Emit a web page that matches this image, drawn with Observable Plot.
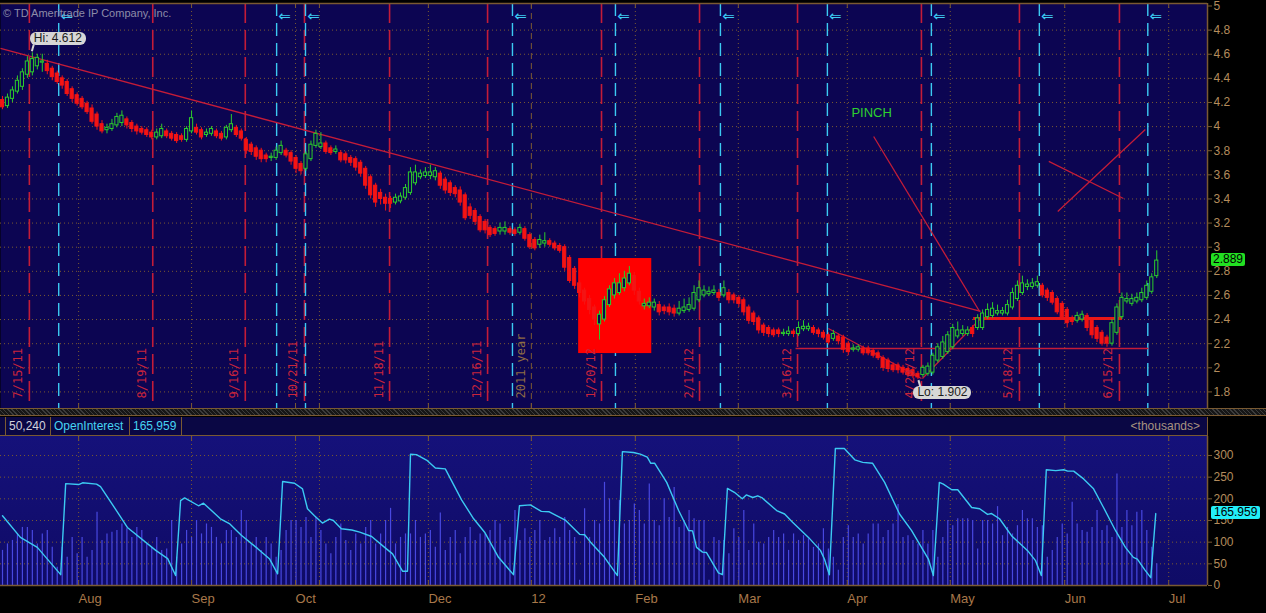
<!DOCTYPE html>
<html>
<head>
<meta charset="utf-8">
<script src="https://cdn.jsdelivr.net/npm/d3@7"></script>
<script src="https://cdn.jsdelivr.net/npm/@observablehq/plot@0.6"></script>
<style>
  html, body { margin: 0; padding: 0; background: #000; }
  #chart { position: relative; width: 1266px; height: 613px; background: #000; overflow: hidden;
           font-family: "Liberation Sans", Arial, sans-serif; }
  #chart > * { position: absolute; }
  .bubble { background: #d6d6d6; color: #1b1b1b; font-size: 12px; line-height: 13px; height: 13px;
            padding: 0 4px; border-radius: 6px; white-space: nowrap; }
  .tag { font-size: 12px; line-height: 13px; height: 13px; padding: 0 2px; border-radius: 2px; white-space: nowrap; color: #000; }
  .hbox { top: 0; height: 18px; line-height: 18px; font-size: 12px; border-right: 1px solid #7a5a32; padding: 0 3px; box-sizing: border-box; white-space: nowrap; position: absolute; }
</style>
</head>
<body>
<div id="chart"></div>
<script>
// ---------------- DATA ----------------
// one entry per daily session (bar index = position in the arrays)
const opens = [
4.22,4.17,4.23,4.29,4.33,4.43,4.45,4.50,4.53,4.52,
4.48,4.44,4.40,4.37,4.31,4.26,4.23,4.19,4.15,4.10,
4.02,3.97,3.98,4.01,4.03,4.06,4.03,4.00,3.98,3.97,
3.95,3.91,3.92,3.96,3.94,3.93,3.92,3.89,3.96,3.99,
3.97,3.93,3.94,3.96,3.94,3.91,3.97,3.99,3.96,3.89,
3.85,3.82,3.80,3.76,3.74,3.74,3.78,3.80,3.78,3.74,
3.69,3.65,3.73,3.84,3.83,3.86,3.82,3.79,3.78,3.77,
3.74,3.73,3.70,3.65,3.58,3.51,3.45,3.41,3.40,3.37,
3.38,3.41,3.45,3.53,3.58,3.59,3.59,3.58,3.61,3.56,
3.53,3.49,3.47,3.43,3.33,3.30,3.25,3.21,3.16,3.15,
3.13,3.13,3.15,3.14,3.12,3.15,3.10,3.06,3.02,3.03,
3.05,3.03,3.01,3.00,2.91,2.82,2.70,2.64,2.57,2.50,
2.36,2.40,2.52,2.60,2.62,2.66,2.70,2.76,2.63,2.51,
2.51,2.50,2.52,2.50,2.50,2.49,2.45,2.47,2.48,2.49,
2.56,2.60,2.61,2.62,2.62,2.60,2.62,2.60,2.58,2.56,
2.50,2.45,2.41,2.35,2.33,2.31,2.31,2.28,2.28,2.30,
2.28,2.32,2.32,2.33,2.31,2.29,2.27,2.24,2.26,2.25,
2.20,2.15,2.15,2.16,2.16,2.14,2.12,2.08,2.06,2.02,
2.02,2.00,1.99,1.98,1.95,1.94,1.95,1.96,2.06,2.09,
2.13,2.17,2.26,2.28,2.28,2.33,2.33,2.33,2.42,2.43,
2.45,2.45,2.45,2.50,2.57,2.62,2.67,2.67,2.68,2.68,
2.64,2.62,2.57,2.53,2.48,2.41,2.39,2.40,2.43,2.39,
2.33,2.29,2.25,2.20,2.29,2.42,2.55,2.53,2.55,2.56,
2.58,2.63,2.76];
const highs = [
4.25,4.27,4.33,4.42,4.48,4.58,4.612,4.60,4.60,4.55,
4.50,4.46,4.42,4.39,4.33,4.28,4.25,4.21,4.18,4.12,
4.05,4.02,4.06,4.11,4.13,4.08,4.05,4.02,4.00,3.99,
3.97,3.98,4.02,3.98,3.96,3.95,3.94,4.00,4.13,4.02,
3.99,3.98,4.00,3.98,3.96,4.01,4.10,4.01,3.98,3.91,
3.87,3.84,3.82,3.78,3.78,3.83,3.88,3.82,3.80,3.76,
3.71,3.79,3.88,3.97,3.95,3.88,3.84,3.84,3.80,3.79,
3.76,3.75,3.72,3.67,3.60,3.53,3.48,3.44,3.42,3.44,
3.45,3.52,3.66,3.68,3.64,3.66,3.68,3.66,3.63,3.58,
3.55,3.51,3.50,3.45,3.36,3.32,3.27,3.23,3.18,3.17,
3.20,3.21,3.17,3.16,3.19,3.17,3.12,3.08,3.10,3.12,
3.07,3.05,3.03,3.02,2.93,2.84,2.72,2.66,2.60,2.52,
2.47,2.59,2.68,2.74,2.78,2.80,2.84,2.79,2.66,2.57,
2.58,2.57,2.55,2.52,2.53,2.52,2.55,2.57,2.58,2.68,
2.72,2.68,2.67,2.68,2.65,2.72,2.65,2.62,2.60,2.58,
2.52,2.47,2.43,2.37,2.35,2.33,2.33,2.32,2.34,2.32,
2.38,2.39,2.37,2.35,2.33,2.31,2.29,2.31,2.28,2.27,
2.22,2.19,2.19,2.18,2.18,2.16,2.14,2.10,2.08,2.04,
2.04,2.02,2.01,2.00,1.97,2.02,2.04,2.12,2.20,2.26,
2.30,2.36,2.38,2.35,2.34,2.35,2.44,2.48,2.53,2.54,
2.52,2.50,2.56,2.66,2.72,2.76,2.73,2.74,2.76,2.70,
2.66,2.64,2.59,2.55,2.50,2.43,2.46,2.47,2.45,2.41,
2.35,2.31,2.27,2.40,2.53,2.62,2.62,2.61,2.62,2.66,
2.72,2.78,2.97];
const lows = [
4.14,4.15,4.20,4.27,4.30,4.40,4.42,4.47,4.45,4.43,
4.38,4.35,4.31,4.25,4.20,4.17,4.14,4.10,4.02,3.97,
3.94,3.94,3.96,3.99,4.00,3.98,3.95,3.93,3.93,3.91,
3.89,3.89,3.90,3.90,3.88,3.86,3.87,3.87,3.94,3.93,
3.89,3.91,3.92,3.90,3.88,3.89,3.95,3.91,3.88,3.77,
3.76,3.72,3.70,3.70,3.71,3.72,3.76,3.74,3.68,3.61,
3.60,3.63,3.71,3.82,3.81,3.77,3.76,3.77,3.70,3.69,
3.67,3.63,3.58,3.48,3.40,3.33,3.35,3.30,3.32,3.35,
3.36,3.39,3.43,3.51,3.56,3.57,3.56,3.55,3.48,3.44,
3.42,3.41,3.34,3.22,3.23,3.18,3.12,3.11,3.08,3.09,
3.10,3.10,3.10,3.09,3.10,3.05,2.98,2.97,2.99,3.00,
3.00,2.97,2.95,2.80,2.70,2.65,2.58,2.52,2.44,2.35,
2.23,2.38,2.50,2.57,2.60,2.63,2.68,2.60,2.52,2.48,
2.49,2.47,2.43,2.44,2.43,2.42,2.43,2.45,2.46,2.47,
2.54,2.58,2.59,2.60,2.55,2.58,2.53,2.53,2.50,2.43,
2.36,2.35,2.28,2.26,2.25,2.25,2.25,2.26,2.26,2.25,
2.26,2.30,2.30,2.27,2.25,2.23,2.19,2.22,2.19,2.12,
2.10,2.13,2.13,2.10,2.10,2.08,2.06,1.97,1.96,1.96,
1.95,1.94,1.92,1.91,1.902,1.92,1.93,1.94,2.04,2.07,
2.11,2.15,2.24,2.26,2.26,2.25,2.31,2.31,2.40,2.41,
2.43,2.43,2.43,2.48,2.55,2.60,2.64,2.65,2.66,2.58,
2.55,2.52,2.44,2.40,2.33,2.35,2.37,2.38,2.30,2.24,
2.21,2.18,2.17,2.18,2.27,2.40,2.53,2.51,2.53,2.54,
2.56,2.61,2.74];
const closes = [
4.16,4.24,4.30,4.38,4.45,4.54,4.56,4.57,4.54,4.46,
4.41,4.37,4.34,4.27,4.23,4.19,4.16,4.12,4.04,4.00,
3.96,3.99,4.02,4.08,4.09,4.01,3.98,3.96,3.95,3.93,
3.91,3.95,3.98,3.92,3.90,3.88,3.89,3.98,4.07,3.95,
3.91,3.95,3.98,3.92,3.90,3.99,4.02,3.93,3.90,3.80,
3.79,3.75,3.73,3.73,3.75,3.80,3.84,3.76,3.71,3.65,
3.63,3.77,3.85,3.94,3.86,3.79,3.78,3.81,3.72,3.72,
3.70,3.66,3.61,3.51,3.43,3.37,3.40,3.36,3.36,3.41,
3.42,3.49,3.62,3.62,3.61,3.62,3.62,3.63,3.51,3.47,
3.45,3.44,3.37,3.24,3.26,3.21,3.14,3.14,3.10,3.11,
3.16,3.16,3.12,3.11,3.16,3.07,3.00,2.99,3.06,3.05,
3.02,2.99,2.97,2.83,2.72,2.68,2.62,2.55,2.48,2.40,
2.44,2.56,2.65,2.70,2.70,2.74,2.78,2.64,2.55,2.53,
2.54,2.54,2.46,2.47,2.46,2.45,2.49,2.50,2.52,2.62,
2.66,2.64,2.63,2.64,2.58,2.66,2.56,2.56,2.53,2.46,
2.39,2.38,2.31,2.29,2.28,2.27,2.28,2.29,2.30,2.28,
2.33,2.34,2.34,2.29,2.28,2.25,2.21,2.28,2.22,2.15,
2.13,2.16,2.17,2.12,2.12,2.10,2.08,2.00,1.99,1.98,
1.98,1.96,1.94,1.93,1.92,2.00,2.01,2.10,2.17,2.21,
2.27,2.33,2.31,2.31,2.31,2.28,2.41,2.45,2.48,2.49,
2.47,2.47,2.52,2.62,2.68,2.70,2.69,2.70,2.71,2.60,
2.58,2.54,2.46,2.42,2.37,2.38,2.43,2.44,2.33,2.27,
2.24,2.20,2.20,2.37,2.50,2.58,2.57,2.57,2.58,2.62,
2.68,2.75,2.889];
// daily volume, thousands
const volume = [
81,96,104,119,134,134,127,96,119,127,
88,42,88,65,111,73,111,65,81,169,
104,119,123,127,142,131,111,134,127,96,
88,111,81,84,150,65,96,127,111,150,
119,142,134,111,96,127,127,111,173,150,
96,111,81,111,96,65,81,127,150,150,
134,157,111,157,127,96,73,111,142,104,
81,119,96,134,150,96,119,150,178,
96,111,119,119,150,111,119,127,88,167,
81,111,127,73,111,134,104,119,119,127,
150,142,104,111,173,104,131,111,127,150,
104,111,131,111,157,127,111,12,177,111,
150,142,238,200,150,196,142,150,188,173,
142,234,150,138,200,157,226,134,150,173,
154,150,150,12,111,104,104,73,131,111,
173,81,142,100,96,111,127,111,119,81,
119,104,115,108,88,96,131,84,65,35,
111,138,111,119,96,119,142,142,111,127,
142,187,111,115,104,96,127,96,127,65,
111,150,138,154,154,154,150,84,150,150,
142,182,115,134,119,138,173,154,154,134,
138,65,81,111,142,119,192,142,127,123,
134,173,127,138,111,257,134,173,138,169,
173,127,88,50.24];
// open interest (thousands), at bar positions
const oiBar = [0,3.6,7.0,11.7,12.7,15.3,16.1,18.9,19.7,23.3,
25.1,30.8,33.2,34.8,35.8,36.6,39.4,40.4,43.8,45.6,
48.0,51.3,53.7,55.3,56.3,58.7,60.3,61.3,62.7,64.3,
65.7,66.5,68.1,70.2,71.8,74.2,76.8,78.4,80.4,81.4,
82.0,83.2,85.4,87.0,89.0,92.3,94.7,96.9,99.7,102.7,
103.9,106.1,108.3,109.9,113.2,116.0,117.0,118.2,121.0,123.6,
124.6,126.8,128.2,129.6,130.3,131.1,133.5,135.9,137.9,138.7,
139.5,140.7,141.5,143.9,144.7,145.7,147.1,148.7,149.5,150.8,
151.8,152.6,155.6,157.2,158.8,162.0,164.4,165.2,166.2,167.4,
169.2,171.3,172.9,174.9,177.3,180.3,182.7,184.3,186.1,187.1,
188.3,189.1,190.8,192.0,194.8,196.4,198.0,198.8,200.4,202.8,
206.0,207.6,208.8,209.8,211.7,213.3,214.1,215.3,217.3,219.3,
221.3,223.7,225.7,227.3,228.1,229.6,230.8,231.8];
const oiValue = [161,111,88,25,235,233,237,234,228,166,
134,81,62,23,196,202,184,190,154,143,
116,85,61,27,240,236,223,177,161,144,
153,150,131,128,123,113,88,73,33,33,
303,302,288,271,269,197,154,123,65,25,
184,186,171,170,150,118,117,100,65,23,
309,307,303,296,282,282,238,173,127,126,
88,77,76,29,25,224,215,200,209,203,
207,203,173,165,146,111,81,61,25,316,
316,290,284,282,238,165,127,96,61,23,
238,234,221,221,180,177,164,166,154,115,
81,58,23,267,265,267,264,264,246,223,
180,127,88,65,61,36,18,165.959];

// options-expiration markers (red) and contract-roll markers (cyan)
const expiryBar = [5.4,30.2,48.8,60.7,77.8,97.5,120.4,140.1,159.8,184.7,204.4,224.5];
const expiryLabel = ["7/15/11","8/19/11","9/16/11","10/21/11","11/18/11","12/16/11","1/20/12","2/17/12","3/16/12","4/20/12","5/18/12","6/15/12"];
const rollBar = [11.3,55.1,60.9,102.5,123.2,144.3,165.8,186.7,208.4,230.2];

// month boundaries and labels
const monthBar = [15.3,38.0,58.9,63.7,85.6,106.3,127.2,147.9,169.8,190.5,213.5,234.4];
const monthLabel = ["Aug","Sep","Oct","","Dec","12","Feb","Mar","Apr","May","Jun","Jul"];
const yearBar = 106.3, yearLabel = "2011 year";

const priceTicks = [1.8,2,2.2,2.4,2.6,2.8,3,3.2,3.4,3.6,3.8,4,4.2,4.4,4.6,4.8,5];
const oiTicks = [0,50,100,150,200,250,300];

// drawn annotations (bar, price)
const trendFromBar   = [-0.4, 175.1, 210.3, 212.1, 184.9, 166.0, 159.4];
const trendFromPrice = [4.648, 3.918, 3.711, 3.296, 1.911, 2.326, 2.160];
const trendToBar     = [196.6, 196.4, 225.3, 229.7, 196.6, 184.7, 230.3];
const trendToPrice   = [2.467, 2.467, 3.404, 3.976, 2.409, 1.911, 2.160];
const levelBar = [195.2, 225.1], levelPrice = 2.409;
const boxBar = [115.8, 130.5], boxPrice = [2.118, 2.906];
const noteText = "PINCH", noteBar = 174.7, notePrice = 4.116;

// ---------------- CHART ----------------
const NAVY = "#0c0552", BROWN = "#7a5a32", TAN = "#b48c5c";
const RED = "#f41414", GREEN = "#2ccc2c", LRED = "#c41c38", CYAN = "#3ccaf2";
const xDomain = [-0.402, 242.2];
const priceDomain = [1.6625, 5.0207];
const oiDomain = [0, 343.8];
const FONT = "'Liberation Sans', Arial, sans-serif";
const MONO = "'DejaVu Sans Mono', monospace";

const bars = closes.map((c, i) => ({
  i, o: opens[i], c,
  h: Math.max(highs[i], opens[i], c),
  l: Math.min(lows[i], opens[i], c),
  up: c >= opens[i]
}));
const trends = trendFromBar.map((b, k) => ({x1: b, y1: trendFromPrice[k], x2: trendToBar[k], y2: trendToPrice[k]}));
const fmtTick = d => String(+d.toFixed(1));

const chart = document.getElementById("chart");

const topPlot = Plot.plot({
  width: 1266, height: 410,
  marginLeft: 0, marginRight: 59, marginTop: 3, marginBottom: 2,
  style: {background: "transparent", color: TAN, fontFamily: FONT, fontSize: "12px"},
  x: {domain: xDomain, axis: null},
  y: {domain: priceDomain, axis: null},
  marks: [
    Plot.frame({fill: NAVY, stroke: "none"}),
    Plot.ruleY(priceTicks.filter(d => d < 5), {stroke: BROWN, strokeDasharray: "1,3"}),
    Plot.ruleX(monthBar.filter(d => d !== yearBar), {stroke: BROWN, strokeDasharray: "1,3"}),
    Plot.ruleX([yearBar], {stroke: BROWN, strokeDasharray: "6,4"}),
    Plot.ruleX(expiryBar, {stroke: LRED, strokeWidth: 1.6, strokeDasharray: "20,7"}),
    Plot.ruleX(rollBar, {stroke: CYAN, strokeWidth: 1.4, strokeDasharray: "13,7"}),
    Plot.rect([0], {x1: () => boxBar[0], x2: () => boxBar[1], y1: () => boxPrice[0], y2: () => boxPrice[1], fill: "#ff0000"}),
    Plot.link(trends, {x1: "x1", y1: "y1", x2: "x2", y2: "y2", stroke: LRED, strokeWidth: 1.3}),
    Plot.ruleY([levelPrice], {x1: levelBar[0], x2: levelBar[1], stroke: "#e81818", strokeWidth: 3}),
    Plot.ruleX(bars, {x: "i", y1: "l", y2: "h", stroke: d => d.up ? GREEN : RED, strokeWidth: 1}),
    Plot.rect(bars, {
      x1: d => d.i - 0.32, x2: d => d.i + 0.32,
      y1: d => Math.min(d.o, d.c), y2: d => Math.max(d.o, d.c),
      fill: d => d.up ? NAVY : RED, stroke: d => d.up ? GREEN : RED, strokeWidth: 1
    }),
    Plot.text(expiryBar, {x: d => d, text: (d, k) => expiryLabel[k], frameAnchor: "bottom", rotate: -90,
      textAnchor: "start", dx: -7, dy: -10, fill: "#c8243c", fontFamily: MONO, fontSize: 12}),
    Plot.text([yearLabel], {x: () => yearBar, text: d => d, frameAnchor: "bottom", rotate: -90,
      textAnchor: "start", dx: -6, dy: -10, fill: "#8e6c44", fontFamily: MONO, fontSize: 12}),
    Plot.text([noteText], {x: () => noteBar, y: () => notePrice, text: d => d, fill: "#2ed02e", fontSize: 13, fontFamily: FONT}),
    Plot.text(rollBar, {x: d => d, text: () => "⇐", frameAnchor: "top", dx: 8, dy: 7, fill: CYAN, fontSize: 15, fontFamily: "'DejaVu Sans', sans-serif"}),
    Plot.ruleX(monthBar, {stroke: BROWN, insetBottom: 400}),
    Plot.ruleX(monthBar, {stroke: BROWN, insetTop: 400}),
    Plot.ruleY([priceDomain[1]], {stroke: BROWN, strokeWidth: 1.5}),
    Plot.ruleX([xDomain[1]], {stroke: BROWN, strokeWidth: 1.5}),
    Plot.axisY(priceTicks, {anchor: "right", tickSize: 4, tickPadding: 2, stroke: BROWN, fill: TAN, tickFormat: fmtTick, fontSize: 12, label: null})
  ]
});
topPlot.style.left = "0px"; topPlot.style.top = "0px";
chart.appendChild(topPlot);

// separator strip
const sep = document.createElement("div");
Object.assign(sep.style, {left: "0px", top: "408px", width: "1266px", height: "8px",
  borderTop: "1px solid " + BROWN, borderBottom: "1px solid " + BROWN, boxSizing: "border-box",
  background: "repeating-linear-gradient(45deg, #3c3c3c 0 1px, #161616 1px 3px)"});
chart.appendChild(sep);

// header row of lower study
const hdr = document.createElement("div");
Object.assign(hdr.style, {left: "0px", top: "417px", width: "1208px", height: "19px", background: "#0a0744",
  borderBottom: "1px solid " + BROWN, borderRight: "1px solid " + BROWN, boxSizing: "border-box"});
const fmtInt = d3.format(",");
const lastVol = volume[volume.length - 1], lastOI = oiValue[oiValue.length - 1];
const boxes = [
  {left: 5, width: 46, text: fmtInt(Math.round(lastVol * 1000)), color: "#d2d2dc"},
  {left: 51, width: 79, text: "OpenInterest", color: "#46d4f2"},
  {left: 130, width: 52, text: fmtInt(Math.round(lastOI * 1000)), color: "#46d4f2"}
];
for (const b of boxes) {
  const s = document.createElement("div");
  s.className = "hbox";
  Object.assign(s.style, {left: b.left + "px", width: b.width + "px", color: b.color,
    borderLeft: b.left === 5 ? "1px solid " + BROWN : "none"});
  s.textContent = b.text;
  hdr.appendChild(s);
}
const th = document.createElement("div");
Object.assign(th.style, {position: "absolute", right: "7px", top: "0px", height: "18px", lineHeight: "18px", fontSize: "12px", color: "#a89480"});
th.textContent = "<thousands>";
hdr.appendChild(th);
chart.appendChild(hdr);

// lower panel background
const bg = document.createElement("div");
Object.assign(bg.style, {left: "0px", top: "436px", width: "1207px", height: "149px",
  background: "linear-gradient(#15117a, #0f0b66)"});
chart.appendChild(bg);

const oiData = oiBar.map((b, k) => ({b, v: oiValue[k]}));
const monthName = new Map(monthBar.map((b, k) => [b, monthLabel[k]]));

const botPlot = Plot.plot({
  width: 1266, height: 177,
  marginLeft: 0, marginRight: 59, marginTop: 0, marginBottom: 28,
  style: {background: "transparent", color: TAN, fontFamily: FONT, fontSize: "12px"},
  x: {domain: xDomain, axis: null},
  y: {domain: oiDomain, axis: null},
  marks: [
    Plot.ruleY(oiTicks.filter(d => d > 0), {stroke: BROWN, strokeDasharray: "1,3"}),
    Plot.ruleX(monthBar, {stroke: BROWN, strokeDasharray: "1,3"}),
    Plot.ruleX(volume, {x: (d, i) => i, y1: 0, y2: d => d, stroke: "#4848e0", strokeWidth: 1.2}),
    Plot.line(oiData, {x: "b", y: "v", stroke: CYAN, strokeWidth: 1.4}),
    Plot.ruleX(monthBar, {stroke: BROWN, insetBottom: 144}),
    Plot.ruleX(monthBar, {stroke: BROWN, insetTop: 144}),
    Plot.ruleY([0], {stroke: BROWN, strokeWidth: 1.5}),
    Plot.ruleX([xDomain[1]], {stroke: BROWN, strokeWidth: 1.5}),
    Plot.axisY(oiTicks, {anchor: "right", tickSize: 4, tickPadding: 2, stroke: BROWN, fill: TAN, fontSize: 12, label: null}),
    Plot.axisX(monthBar, {anchor: "bottom", tickSize: 0, tickPadding: 8, tickFormat: d => monthName.get(d),
      textAnchor: "start", fill: "#a8784a", fontSize: 13, label: null})
  ]
});
botPlot.style.left = "0px"; botPlot.style.top = "436px";
chart.appendChild(botPlot);

// ---------------- overlays positioned through the plot scales ----------------
const sx = topPlot.scale("x"), sy = topPlot.scale("y");
const fmt3 = d3.format(".3f");
const hiIdx = d3.maxIndex(highs), loIdx = d3.minIndex(lows);

const ov = document.createElementNS("http://www.w3.org/2000/svg", "svg");
ov.setAttribute("width", 1266); ov.setAttribute("height", 613);
Object.assign(ov.style, {left: "0px", top: "0px", pointerEvents: "none"});
chart.appendChild(ov);
function pointer(x1, y1, x2, y2) {
  const l = document.createElementNS("http://www.w3.org/2000/svg", "line");
  l.setAttribute("x1", x1); l.setAttribute("y1", y1); l.setAttribute("x2", x2); l.setAttribute("y2", y2);
  l.setAttribute("stroke", "#d6d6d6"); l.setAttribute("stroke-width", 2);
  ov.appendChild(l);
}
function bubble(text, left, top) {
  const d = document.createElement("div");
  d.className = "bubble"; d.textContent = text;
  d.style.left = left + "px"; d.style.top = top + "px";
  chart.appendChild(d);
}
const hx = sx.apply(hiIdx), hy = sy.apply(highs[hiIdx]);
pointer(hx + 2, hy - 8, hx, hy - 1);
bubble("Hi: " + fmt3(highs[hiIdx]), hx - 2, hy - 20);
const lx = sx.apply(loIdx), ly = sy.apply(lows[loIdx]);
pointer(lx + 1, ly + 1, lx + 3, ly + 8);
bubble("Lo: " + fmt3(lows[loIdx]), lx - 4, ly + 7);

// copyright
const cp = document.createElement("div");
Object.assign(cp.style, {left: "3px", top: "7px", fontSize: "11px", color: "#8c8ca8", whiteSpace: "nowrap"});
cp.textContent = "© TD Ameritrade IP Company, Inc.";
chart.appendChild(cp);

// last price tag
const lastClose = closes[closes.length - 1];
const pt = document.createElement("div");
pt.className = "tag"; pt.textContent = fmt3(lastClose);
Object.assign(pt.style, {left: (sx.apply(xDomain[1]) + 4) + "px", top: (sy.apply(lastClose) - 7) + "px", background: "#22e022"});
chart.appendChild(pt);

// last open-interest tag
const by = botPlot.scale("y");
const ot = document.createElement("div");
ot.className = "tag"; ot.textContent = fmt3(lastOI);
Object.assign(ot.style, {left: (sx.apply(xDomain[1]) + 4) + "px", top: (436 + by.apply(lastOI) - 7) + "px", background: "#22eef8", padding: "0 3px"});
chart.appendChild(ot);
</script>
</body>
</html>
